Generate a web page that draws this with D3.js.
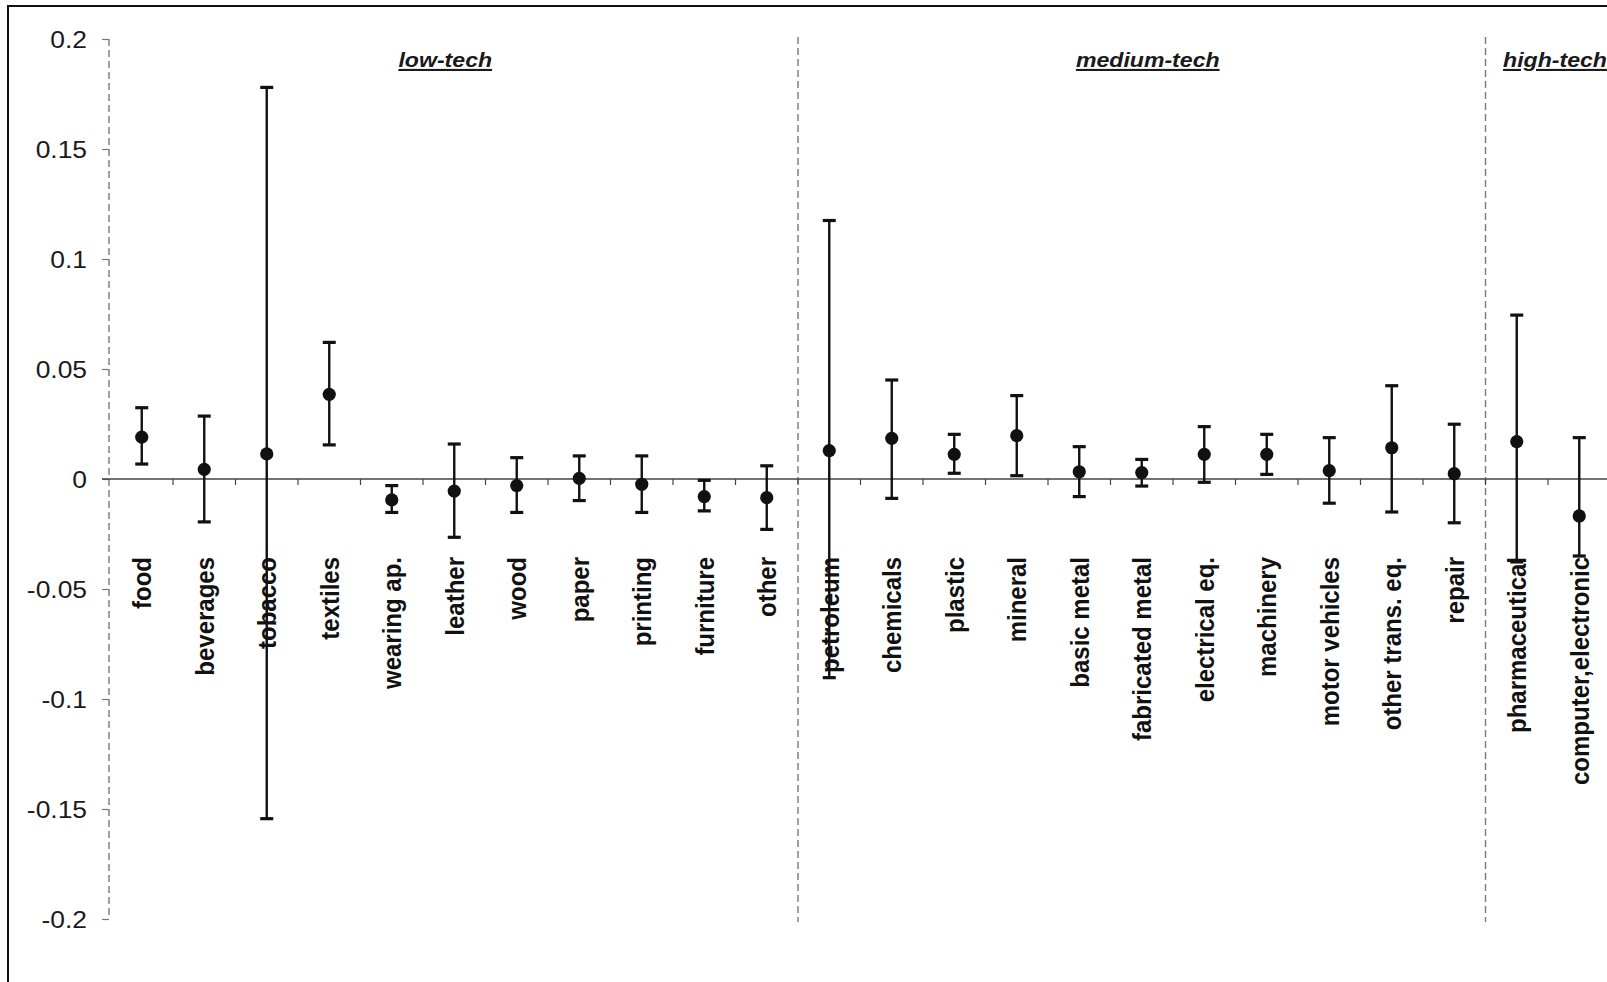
<!DOCTYPE html>
<html>
<head>
<meta charset="utf-8">
<script src="https://cdn.jsdelivr.net/npm/d3@7"></script>
<style>
  html, body { margin: 0; padding: 0; background: #fff; }
  svg { display: block; }
</style>
</head>
<body>
<svg id="chart" width="1607" height="982"></svg>
<script>
// Industry estimates with confidence intervals, grouped by technology intensity
const categories = [
  "food", "beverages", "tobacco", "textiles", "wearing ap.", "leather", "wood",
  "paper", "printing", "furniture", "other", "petroleum", "chemicals", "plastic",
  "mineral", "basic metal", "fabricated metal", "electrical eq.", "machinery",
  "motor vehicles", "other trans. eq.", "repair", "pharmaceutical", "computer,electronic"
];
const estimates = [
  0.019, 0.0044, 0.0114, 0.0385, -0.0095, -0.0055, -0.003,
  0.0003, -0.0024, -0.008, -0.0085, 0.0129, 0.0185, 0.0112,
  0.0197, 0.0033, 0.0029, 0.0112, 0.0112,
  0.0038, 0.0142, 0.0024, 0.017, -0.0168
];
const lowerBounds = [
  0.0068, -0.0195, -0.1544, 0.0155, -0.0152, -0.0265, -0.0152,
  -0.0098, -0.0152, -0.0145, -0.0229, -0.0903, -0.0088, 0.0026,
  0.0015, -0.008, -0.0032, -0.0015, 0.0021,
  -0.011, -0.015, -0.0199, -0.0377, -0.035
];
const upperBounds = [
  0.0324, 0.0286, 0.178, 0.0621, -0.003, 0.0159, 0.0097,
  0.0105, 0.0105, -0.0006, 0.006, 0.1175, 0.045, 0.0203,
  0.0379, 0.0147, 0.0089, 0.0238, 0.0203,
  0.0188, 0.0424, 0.0249, 0.0745, 0.0188
];
const groupNames = ["low-tech", "medium-tech", "high-tech"];
const groupSizes = [11, 11, 2];
const yTicks = [0.2, 0.15, 0.1, 0.05, 0, -0.05, -0.1, -0.15, -0.2];

// Layout
const plotLeft = 110.5, step = 62.5;
const yTop = 39, yBottom = 919;
const textStretch = 1.1;
const fontFamily = "'Liberation Sans', Arial, Helvetica, sans-serif";

const svg = d3.select("#chart");

const x = d3.scaleBand()
  .domain(categories)
  .range([plotLeft, plotLeft + step * categories.length])
  .paddingInner(0).paddingOuter(0);
const y = d3.scaleLinear().domain([-0.2, 0.2]).range([yBottom, yTop]);

// Outer frame
svg.append("rect")
  .attr("x", 8).attr("y", 6)
  .attr("width", 1700).attr("height", 1100)
  .attr("fill", "none").attr("stroke", "#111").attr("stroke-width", 2);

// Group separators (dashed)
let start = 0;
const groupInfo = groupNames.map((name, i) => {
  const first = categories[start];
  const last = categories[start + groupSizes[i] - 1];
  const info = { name, x0: x(first), x1: x(last) + x.bandwidth() };
  start += groupSizes[i];
  return info;
});

svg.append("line")
  .attr("x1", plotLeft - 1.5).attr("x2", plotLeft - 1.5)
  .attr("y1", y(0.2)).attr("y2", y(-0.2))
  .attr("stroke", "#7a7a7a").attr("stroke-width", 1.4)
  .attr("stroke-dasharray", "7,4");

groupInfo.slice(1).forEach(g => {
  svg.append("line")
    .attr("x1", g.x0).attr("x2", g.x0)
    .attr("y1", 37).attr("y2", 922)
    .attr("stroke", "#7a7a7a").attr("stroke-width", 1.4)
    .attr("stroke-dasharray", "7,4");
});

// Y axis
const yAxis = svg.append("g")
  .attr("transform", `translate(${plotLeft - 1.5},0)`)
  .call(d3.axisLeft(y)
    .tickValues(yTicks)
    .tickSize(7)
    .tickPadding(15)
    .tickFormat(d => String(+d.toFixed(2))));
yAxis.select(".domain").remove();
yAxis.selectAll(".tick line").attr("stroke", "#777").attr("stroke-width", 1.2);
yAxis.selectAll(".tick text")
  .attr("x", null)
  .attr("transform", `translate(-22,0) scale(${textStretch},1)`)
  .attr("dy", "0.36em")
  .attr("fill", "#1a1a1a")
  .style("font-family", fontFamily)
  .style("font-size", "24px");

// X axis at zero with boundary ticks
const boundaries = d3.range(1, categories.length + 1).map(i => plotLeft + i * step);
svg.append("line")
  .attr("x1", plotLeft - 8.5).attr("x2", 1607)
  .attr("y1", y(0)).attr("y2", y(0))
  .attr("stroke", "#444").attr("stroke-width", 1.3);
svg.append("g").selectAll("line")
  .data(boundaries)
  .join("line")
  .attr("x1", d => d).attr("x2", d => d)
  .attr("y1", y(0)).attr("y2", y(0) + 6)
  .attr("stroke", "#444").attr("stroke-width", 1.2);

// Error bars
const rows = categories.map((c, i) => ({
  c, est: estimates[i], lo: lowerBounds[i], hi: upperBounds[i]
}));
const cx = d => x(d.c) + x.bandwidth() / 2;
const capHalf = 6.5;

const bars = svg.append("g").attr("stroke", "#111").attr("stroke-width", 2.4);
bars.selectAll("line.stem").data(rows).join("line")
  .attr("class", "stem")
  .attr("x1", cx).attr("x2", cx)
  .attr("y1", d => y(d.hi)).attr("y2", d => y(d.lo));
bars.selectAll("line.capHi").data(rows).join("line")
  .attr("class", "capHi")
  .attr("x1", d => cx(d) - capHalf).attr("x2", d => cx(d) + capHalf)
  .attr("y1", d => y(d.hi)).attr("y2", d => y(d.hi))
  .attr("stroke-width", 3.2);
bars.selectAll("line.capLo").data(rows).join("line")
  .attr("class", "capLo")
  .attr("x1", d => cx(d) - capHalf).attr("x2", d => cx(d) + capHalf)
  .attr("y1", d => y(d.lo)).attr("y2", d => y(d.lo))
  .attr("stroke-width", 3.2);

svg.append("g").selectAll("circle").data(rows).join("circle")
  .attr("cx", cx).attr("cy", d => y(d.est))
  .attr("r", 6.6).attr("fill", "#111");

// Category labels, rotated
svg.append("g").selectAll("text").data(rows).join("text")
  .attr("transform", d => `translate(${cx(d)},557) scale(${textStretch},1) rotate(-90)`)
  .attr("dy", "0.36em")
  .attr("text-anchor", "end")
  .attr("fill", "#111")
  .style("font-family", fontFamily)
  .style("font-size", "24px")
  .style("font-weight", "bold")
  .text(d => d.c);

// Group headings
const headingShift = [-9, 6, 7];
svg.append("g").selectAll("text").data(groupInfo).join("text")
  .attr("transform", (g, i) => `translate(${(g.x0 + g.x1) / 2 + headingShift[i]},67) scale(${textStretch},1)`)
  .attr("text-anchor", "middle")
  .attr("fill", "#1a1a1a")
  .style("font-family", fontFamily)
  .style("font-size", "21px")
  .style("font-weight", "bold")
  .style("font-style", "italic")
  .style("text-decoration", "underline")
  .text(g => g.name);
</script>
</body>
</html>
